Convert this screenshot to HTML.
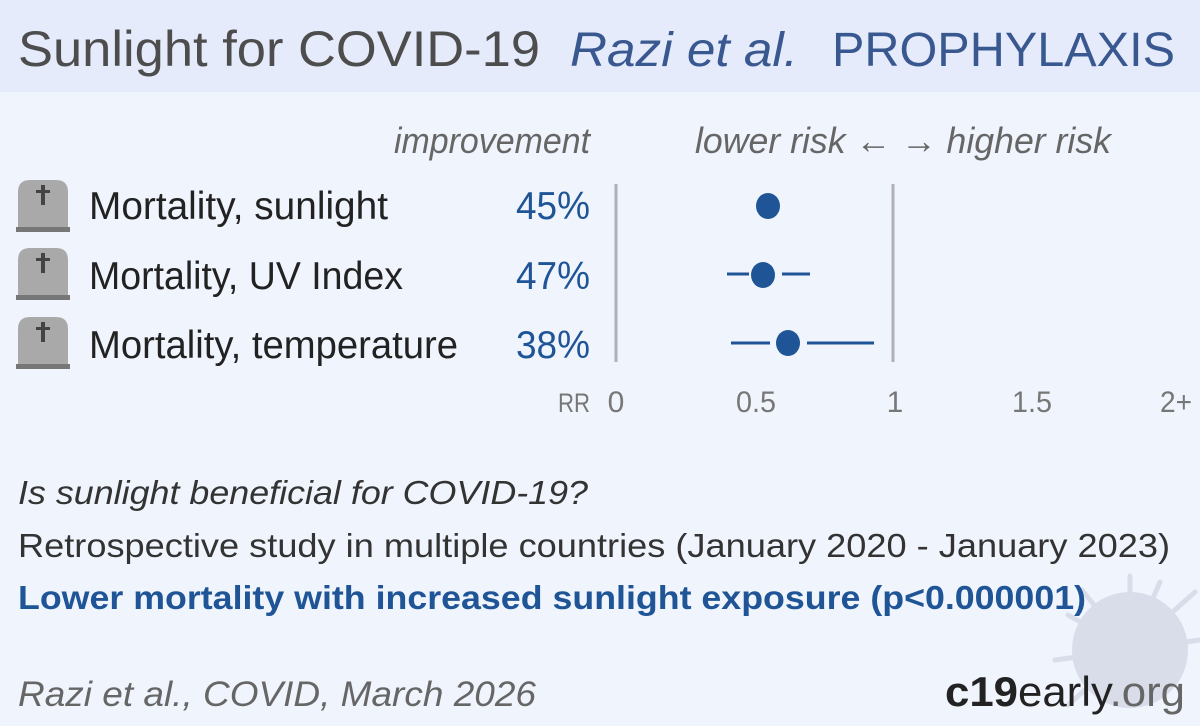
<!DOCTYPE html>
<html><head><meta charset="utf-8"><style>
html,body{margin:0;padding:0;background:#f0f4fd}
svg{display:block}
text{font-family:"Liberation Sans",sans-serif}
</style></head><body>
<svg width="1200" height="726" viewBox="0 0 1200 726" xmlns="http://www.w3.org/2000/svg">
<rect width="1200" height="726" fill="#f0f4fd"/>
<rect width="1200" height="92" fill="#e5ebfb"/>
<text x="18" y="66" font-size="50" fill="#4d4d4d" textLength="522" lengthAdjust="spacingAndGlyphs">Sunlight for COVID-19</text>
<text x="570" y="66" font-size="48" font-style="italic" fill="#3a5890" textLength="228" lengthAdjust="spacingAndGlyphs">Razi et al.</text>
<text x="832" y="66" font-size="48" fill="#3a5890" textLength="343" lengthAdjust="spacingAndGlyphs">PROPHYLAXIS</text>

<text x="590" y="153" font-size="36" font-style="italic" fill="#666" text-anchor="end" textLength="196" lengthAdjust="spacingAndGlyphs">improvement</text>
<text x="695" y="153" font-size="36" font-style="italic" fill="#666" textLength="416" lengthAdjust="spacingAndGlyphs">lower risk ← → higher risk</text>

<g fill="#a9a9a9">
<path d="M18 229 V192 Q18 180 30 180 H56 Q68 180 68 192 V229 Z"/>
<path d="M18 297 V260 Q18 248 30 248 H56 Q68 248 68 260 V297 Z"/>
<path d="M18 366 V329 Q18 317 30 317 H56 Q68 317 68 329 V366 Z"/>
</g>
<g fill="#777">
<rect x="16" y="227" width="54" height="5"/><rect x="16" y="295" width="54" height="5"/><rect x="16" y="364" width="54" height="5"/>
</g>
<g fill="#444">
<rect x="41" y="185" width="4" height="20"/><rect x="36" y="190" width="14" height="3"/>
<rect x="41" y="253" width="4" height="20"/><rect x="36" y="258" width="14" height="3"/>
<rect x="41" y="322" width="4" height="20"/><rect x="36" y="327" width="14" height="3"/>
</g>

<g font-size="39" fill="#222">
<text x="89" y="219" textLength="299" lengthAdjust="spacingAndGlyphs">Mortality, sunlight</text>
<text x="89" y="289" textLength="314" lengthAdjust="spacingAndGlyphs">Mortality, UV Index</text>
<text x="89" y="358" textLength="369" lengthAdjust="spacingAndGlyphs">Mortality, temperature</text>
</g>
<g font-size="39" fill="#1f5596" text-anchor="end">
<text x="590" y="219" textLength="74" lengthAdjust="spacingAndGlyphs">45%</text>
<text x="590" y="289" textLength="74" lengthAdjust="spacingAndGlyphs">47%</text>
<text x="590" y="358" textLength="74" lengthAdjust="spacingAndGlyphs">38%</text>
</g>

<line x1="616" y1="184" x2="616" y2="362" stroke="#b0b0b8" stroke-width="3"/>
<line x1="893" y1="184" x2="893" y2="362" stroke="#b0b0b8" stroke-width="3"/>
<g stroke="#1f5596" stroke-width="3">
<line x1="727" y1="274" x2="749" y2="274"/><line x1="782" y1="274" x2="810" y2="274"/>
<line x1="731" y1="343" x2="770" y2="343"/><line x1="807" y1="343" x2="874" y2="343"/>
</g>
<g fill="#1f5596">
<ellipse cx="768" cy="206" rx="12" ry="13"/>
<ellipse cx="763" cy="275" rx="12" ry="13"/>
<ellipse cx="788" cy="343" rx="12" ry="13"/>
</g>
<g font-size="30" fill="#777" text-anchor="middle">
<text x="574" y="412" font-size="27" textLength="32" lengthAdjust="spacingAndGlyphs">RR</text>
<text x="616" y="412">0</text>
<text x="756" y="412" textLength="40" lengthAdjust="spacingAndGlyphs">0.5</text>
<text x="895" y="412">1</text>
<text x="1032" y="412" textLength="40" lengthAdjust="spacingAndGlyphs">1.5</text>
<text x="1176" y="412" textLength="32" lengthAdjust="spacingAndGlyphs">2+</text>
</g>

<g opacity="0.4" fill="#b8bcd0" stroke="#b8bcd0">
<circle cx="1130" cy="650" r="58" stroke="none"/>
<g stroke-width="5" stroke-linecap="round">
<line x1="1130" y1="650" x2="1130" y2="576"/><line x1="1130" y1="650" x2="1068" y2="615"/>
<line x1="1130" y1="650" x2="1055" y2="660"/><line x1="1130" y1="650" x2="1082" y2="590"/>
<line x1="1130" y1="650" x2="1195" y2="592"/><line x1="1130" y1="650" x2="1200" y2="640"/>
<line x1="1130" y1="650" x2="1068" y2="705"/><line x1="1130" y1="650" x2="1160" y2="582"/>
</g>
</g>

<text x="18" y="504" font-size="33" font-style="italic" fill="#333" textLength="570" lengthAdjust="spacingAndGlyphs">Is sunlight beneficial for COVID-19?</text>
<text x="18" y="557" font-size="33" fill="#333" textLength="1152" lengthAdjust="spacingAndGlyphs">Retrospective study in multiple countries (January 2020 - January 2023)</text>
<text x="18" y="609" font-size="33" font-weight="bold" fill="#1f5596" textLength="1068" lengthAdjust="spacingAndGlyphs">Lower mortality with increased sunlight exposure (p&lt;0.000001)</text>
<text x="18" y="706" font-size="35" font-style="italic" fill="#666" textLength="518" lengthAdjust="spacingAndGlyphs">Razi et al., COVID, March 2026</text>
<text x="945" y="706" font-size="42" fill="#222" textLength="240" lengthAdjust="spacingAndGlyphs"><tspan font-weight="bold">c19</tspan>early<tspan fill="#666">.org</tspan></text>
</svg>
</body></html>
